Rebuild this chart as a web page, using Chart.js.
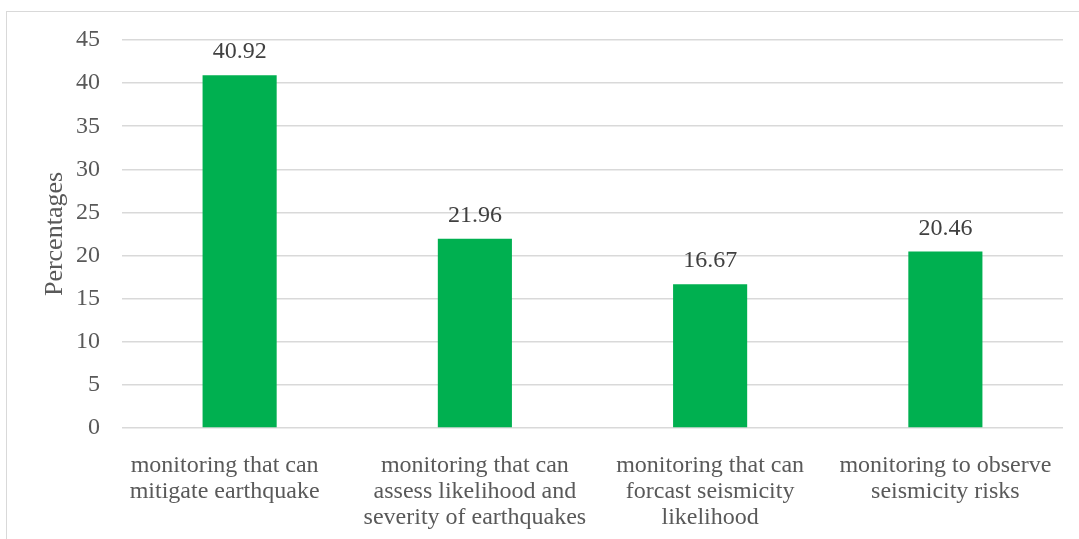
<!DOCTYPE html>
<html>
<head>
<meta charset="utf-8">
<script src="https://cdn.jsdelivr.net/npm/chart.js@4"></script>
<style>
  html, body { margin: 0; padding: 0; background: #ffffff; }
  #wrap { width: 1079px; height: 539px; }
</style>
</head>
<body>
<div id="wrap"><canvas id="chart" width="1079" height="539"></canvas></div>
<script>
// Survey categories (wrapped onto lines as they appear under the axis;
// the first one keeps its trailing spaces, which nudge it left)
const categories = [
  ["monitoring that can     ", "mitigate earthquake     "],
  ["monitoring that can", "assess likelihood and", "severity of earthquakes"],
  ["monitoring that can", "forcast seismicity", "likelihood"],
  ["monitoring to observe", "seismicity risks"]
];

// Share of respondents, in percent
const percentages = [40.92, 21.96, 16.67, 20.46];

// Value axis range and step
const yMin = 0;
const yMax = 45;
const yStep = 5;

const axisTitle = "Percentages";

const serif = "'Liberation Serif', 'Times New Roman', serif";

// Thin frame around the whole figure
const framePlugin = {
  id: 'frame',
  beforeDraw(chart) {
    const ctx = chart.ctx;
    ctx.save();
    ctx.strokeStyle = '#d9d9d9';
    ctx.lineWidth = 1;
    ctx.strokeRect(6.5, 11.5, chart.width + 20, chart.height + 20);
    ctx.restore();
  }
};

// Value labels above each bar
const valueLabels = {
  id: 'valueLabels',
  afterDatasetsDraw(chart) {
    const ctx = chart.ctx;
    const meta = chart.getDatasetMeta(0);
    ctx.save();
    ctx.font = "24px " + serif;
    ctx.fillStyle = '#404040';
    ctx.textAlign = 'center';
    ctx.textBaseline = 'alphabetic';
    meta.data.forEach((bar, i) => {
      const v = chart.data.datasets[0].data[i];
      ctx.fillText(v.toFixed(2), bar.x, bar.y - 17);
    });
    ctx.restore();
  }
};

new Chart(document.getElementById('chart'), {
  type: 'bar',
  data: {
    labels: categories,
    datasets: [{
      data: percentages,
      backgroundColor: '#00b050',
      borderWidth: 0,
      categoryPercentage: 1.0,
      barPercentage: 0.315
    }]
  },
  options: {
    responsive: false,
    animation: false,
    devicePixelRatio: 1,
    layout: { padding: { left: 0, right: 16, top: 40, bottom: 0 } },
    plugins: {
      legend: { display: false },
      tooltip: { enabled: false }
    },
    scales: {
      x: {
        grid: { display: false },
        border: { display: false },
        ticks: {
          color: '#595959',
          font: { family: serif, size: 24, lineHeight: 1.083 },
          maxRotation: 0,
          minRotation: 0,
          autoSkip: false,
          padding: 17
        },
        afterFit(scale) { scale.height = 111; }
      },
      y: {
        min: yMin,
        max: yMax,
        grid: {
          color: '#d9d9d9',
          lineWidth: 1.5,
          drawTicks: false
        },
        border: { display: false },
        ticks: {
          stepSize: yStep,
          color: '#595959',
          font: { family: serif, size: 24 },
          padding: 22
        },
        title: {
          display: true,
          text: axisTitle,
          color: '#595959',
          font: { family: serif, size: 26 },
          padding: { top: 40, bottom: 0 }
        },
        afterFit(scale) { scale.width = 122; }
      }
    }
  },
  plugins: [framePlugin, valueLabels]
});
</script>
</body>
</html>
